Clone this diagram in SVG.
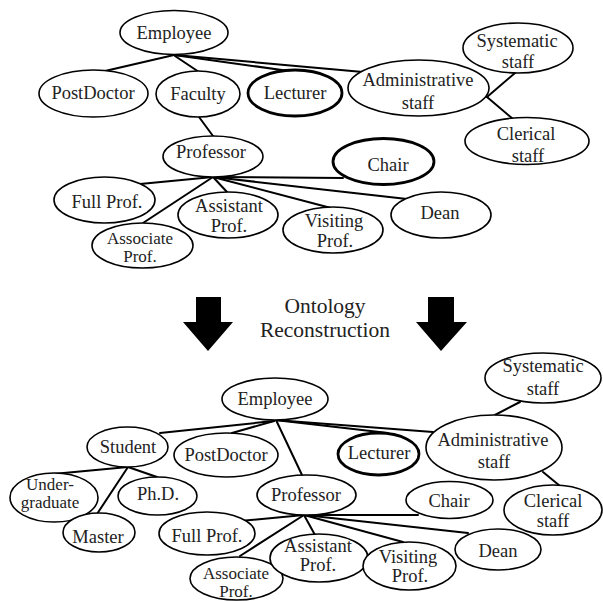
<svg xmlns="http://www.w3.org/2000/svg" width="603" height="601" viewBox="0 0 603 601">
  <style>
    text { font-family: 'Liberation Serif', 'Times New Roman', Times, 'DejaVu Serif', serif; }
    .node ellipse { fill: #fff; stroke: #000; stroke-width: 1.6; }
    .node.bold ellipse { stroke-width: 2.8; }
    .node text { font-size: 18.5px; fill: #222; text-anchor: middle; }
    .node text.tight { font-size: 17px; }
    .edges line { stroke: #000; stroke-width: 2; stroke-linecap: round; }
    .caption { font-size: 21.5px; fill: #222; text-anchor: middle; }
    .arrow { fill: #000; }
  </style>
  <rect width="603" height="601" fill="#fff"/>

  <!-- upper hierarchy: connectors -->
  <g id="edges-top" class="edges">
    <line x1="174" y1="55" x2="105" y2="71"/>
    <line x1="175" y1="56" x2="199" y2="72"/>
    <line x1="174" y1="55" x2="289" y2="71"/>
    <line x1="175" y1="55" x2="363" y2="72"/>
    <line x1="199" y1="117" x2="213" y2="136"/>
    <line x1="487" y1="97" x2="515" y2="73"/>
    <line x1="487" y1="97" x2="513" y2="119"/>
    <line x1="213" y1="177" x2="140" y2="184"/>
    <line x1="213" y1="177" x2="143" y2="223"/>
    <line x1="213" y1="177" x2="227" y2="192"/>
    <line x1="213" y1="177" x2="331" y2="208"/>
    <line x1="213" y1="177" x2="407" y2="199"/>
    <line x1="213" y1="177" x2="343" y2="178"/>
  </g>

  <!-- upper hierarchy: nodes -->
  <g id="t-employee" class="node"><ellipse cx="174" cy="32.5" rx="54" ry="22"/><text x="174" y="39">Employee</text></g>
  <g id="t-postdoctor" class="node"><ellipse cx="93.5" cy="93.5" rx="54.5" ry="23.5"/><text x="93" y="99">PostDoctor</text></g>
  <g id="t-faculty" class="node"><ellipse cx="198" cy="94" rx="42" ry="23"/><text x="198" y="100">Faculty</text></g>
  <g id="t-lecturer" class="node bold"><ellipse cx="295" cy="93" rx="47" ry="23"/><text x="295" y="99">Lecturer</text></g>
  <g id="t-admin" class="node"><ellipse cx="418.5" cy="88" rx="70.5" ry="28"/><text x="418" y="86">Administrative</text><text x="418" y="109">staff</text></g>
  <g id="t-systematic" class="node"><ellipse cx="518" cy="48" rx="55" ry="25"/><text x="517" y="47">Systematic</text><text x="518" y="68">staff</text></g>
  <g id="t-clerical" class="node"><ellipse cx="527" cy="141" rx="62" ry="23.5"/><text x="526" y="140">Clerical</text><text x="528" y="162">staff</text></g>
  <g id="t-professor" class="node"><ellipse cx="213" cy="156.5" rx="50" ry="20.5"/><text x="211" y="158">Professor</text></g>
  <g id="t-chair" class="node bold"><ellipse cx="383.5" cy="161.5" rx="50.5" ry="23"/><text x="388" y="171">Chair</text></g>
  <g id="t-full" class="node"><ellipse cx="104.5" cy="200" rx="50.5" ry="23"/><text x="107" y="208">Full Prof.</text></g>
  <g id="t-associate" class="node"><ellipse cx="142.5" cy="245.5" rx="50.5" ry="22.5"/><text class="tight" x="140" y="244">Associate</text><text class="tight" x="140" y="262">Prof.</text></g>
  <g id="t-assistant" class="node"><ellipse cx="228" cy="215" rx="50" ry="23"/><text x="229" y="212">Assistant</text><text x="229" y="232">Prof.</text></g>
  <g id="t-visiting" class="node"><ellipse cx="333" cy="230" rx="50" ry="23"/><text x="334" y="227">Visiting</text><text x="335" y="247">Prof.</text></g>
  <g id="t-dean" class="node"><ellipse cx="441" cy="215" rx="50" ry="23"/><text x="440" y="219">Dean</text></g>

  <!-- transition arrows and caption -->
  <g id="transition">
    <polygon class="arrow" points="196,297 221,297 221,322 233,322 208,351 183,322 196,322"/>
    <polygon class="arrow" points="428,297 454,297 454,322 467,322 441,351 416,322 428,322"/>
    <text class="caption" x="325" y="313">Ontology</text>
    <text class="caption" x="325" y="337">Reconstruction</text>
  </g>

  <!-- lower hierarchy: connectors -->
  <g id="edges-bottom" class="edges">
    <line x1="274" y1="421" x2="160" y2="433"/>
    <line x1="274" y1="421" x2="232" y2="433"/>
    <line x1="276" y1="420" x2="302" y2="475"/>
    <line x1="275" y1="420" x2="388" y2="433"/>
    <line x1="275" y1="420" x2="433" y2="432"/>
    <line x1="495" y1="415" x2="520" y2="402"/>
    <line x1="543" y1="472" x2="560" y2="486"/>
    <line x1="128" y1="467" x2="53" y2="474"/>
    <line x1="128" y1="467" x2="157" y2="477"/>
    <line x1="128" y1="467" x2="97" y2="514"/>
    <line x1="304" y1="515" x2="240" y2="521"/>
    <line x1="304" y1="515" x2="240" y2="556"/>
    <line x1="304" y1="515" x2="315" y2="535"/>
    <line x1="304" y1="515" x2="403" y2="542"/>
    <line x1="304" y1="515" x2="468" y2="533"/>
    <line x1="304" y1="515" x2="418" y2="515"/>
  </g>

  <!-- lower hierarchy: nodes -->
  <g id="b-employee" class="node"><ellipse cx="275" cy="399" rx="53" ry="21"/><text x="275" y="405">Employee</text></g>
  <g id="b-student" class="node"><ellipse cx="127.5" cy="447" rx="40.5" ry="20"/><text x="128" y="453">Student</text></g>
  <g id="b-postdoctor" class="node"><ellipse cx="226" cy="455" rx="52" ry="22"/><text x="226" y="461">PostDoctor</text></g>
  <g id="b-lecturer" class="node bold"><ellipse cx="378.5" cy="454" rx="40.5" ry="21"/><text x="379" y="459">Lecturer</text></g>
  <g id="b-admin" class="node"><ellipse cx="494" cy="447.5" rx="68" ry="32.5"/><text x="493" y="446">Administrative</text><text x="494" y="468">staff</text></g>
  <g id="b-systematic" class="node"><ellipse cx="543" cy="378" rx="58" ry="25"/><text x="543" y="372">Systematic</text><text x="543" y="395">staff</text></g>
  <g id="b-undergraduate" class="node"><ellipse cx="54" cy="497.5" rx="44" ry="24.5"/><text class="tight" x="50" y="490">Under-</text><text class="tight" x="50" y="508">graduate</text></g>
  <g id="b-phd" class="node"><ellipse cx="157.5" cy="496" rx="39.5" ry="19"/><text x="158" y="500">Ph.D.</text></g>
  <g id="b-master" class="node"><ellipse cx="99" cy="532.5" rx="36" ry="19.5"/><text x="98" y="543">Master</text></g>
  <g id="b-professor" class="node"><ellipse cx="306.5" cy="495" rx="49.5" ry="20"/><text x="306" y="501">Professor</text></g>
  <g id="b-chair" class="node"><ellipse cx="449.5" cy="500" rx="43.5" ry="18.5"/><text x="449" y="507">Chair</text></g>
  <g id="b-clerical" class="node"><ellipse cx="553" cy="510" rx="49" ry="25"/><text x="553" y="507">Clerical</text><text x="553" y="527">staff</text></g>
  <g id="b-full" class="node"><ellipse cx="207" cy="533.5" rx="48" ry="21.5"/><text x="207" y="542">Full Prof.</text></g>
  <g id="b-associate" class="node"><ellipse cx="236.5" cy="578.5" rx="46.5" ry="21.5"/><text class="tight" x="236" y="579">Associate</text><text class="tight" x="236" y="597">Prof.</text></g>
  <g id="b-assistant" class="node"><ellipse cx="319" cy="558" rx="49" ry="24"/><text x="318" y="552">Assistant</text><text x="318" y="571">Prof.</text></g>
  <g id="b-visiting" class="node"><ellipse cx="409.5" cy="566" rx="46.5" ry="24"/><text x="408" y="563">Visiting</text><text x="410" y="582">Prof.</text></g>
  <g id="b-dean" class="node"><ellipse cx="498" cy="549.5" rx="43" ry="20.5"/><text x="498" y="557">Dean</text></g>
</svg>
